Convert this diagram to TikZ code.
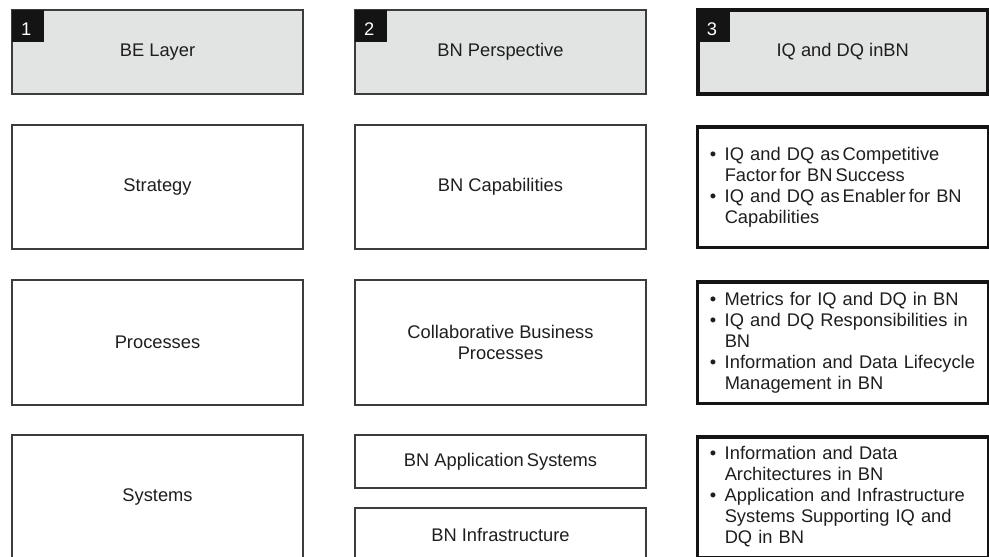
\documentclass[tikz,border=0pt]{standalone}
\usepackage{fontspec}
\setmainfont{Liberation Sans}
\usepackage{tikz}
\usetikzlibrary{positioning}
\definecolor{headgray}{HTML}{E2E3E3}
\definecolor{linegray}{HTML}{3C3C3C}
\definecolor{inkblack}{HTML}{141414}
\definecolor{txtgray}{HTML}{1E1E1E}
\newcommand{\boxfont}{\fontsize{18.3}{21}\selectfont\hyphenpenalty 10000\relax}
\newcommand{\bul}{\makebox[15pt][l]{\textbullet}}
\newcommand{\ind}{\hspace*{15pt}}

\begin{document}
\begin{tikzpicture}[x=1pt,y=-1pt,
    box/.style={draw=linegray,line width=1.5pt,inner sep=0pt,outer sep=0pt,minimum width=291pt,
      text=txtgray,align=center,font=\boxfont},
    head/.style={box,fill=headgray,minimum height=84pt},
    iqbox/.style={box,draw=inkblack,line width=3.5pt,text width=266pt,inner xsep=12pt,align=left},
    badge/.style={fill=inkblack,text=white,minimum size=32pt,inner sep=0pt,anchor=north west,
      text height=19pt,text depth=0pt,font=\boxfont}]
    \useasboundingbox (0,0) rectangle (989,557);
    \clip (0,0) rectangle (989,557);
    % column heads
    \node[head] (be) at (157.5,52) {BE Layer};
    \node[head] (bnp) at (500.5,52) {BN Perspective};
    \node[head,draw=inkblack,line width=3.5pt,minimum width=290pt] (iqdq) at (842.75,52) {IQ and DQ inBN};
    \node[badge] (n1) at (be.north west) {\hspace*{-4pt}1};
    \node[badge] (n2) at (bnp.north west) {\hspace*{-4pt}2};
    \node[badge] (n3) at (iqdq.north west) {\hspace*{-4pt}3};
    % strategy
    \node[box,minimum height=124pt] (strat) at (157.5,187) {Strategy};
    \node[box,minimum height=124pt] (cap) at (500.5,187) {BN Capabilities};
    \node[iqbox,minimum height=120.5pt] (iqstrat) at (842.75,187)
      {\bul IQ and DQ as\,Competitive\\\ind Factor\,for BN\,Success\\
       \bul IQ and DQ as\,Enabler\,for BN\\\ind Capabilities};
    % processes
    \node[box,minimum height=125pt] (proc) at (157.5,342.5) {Processes};
    \node[box,minimum height=125pt] (cbp) at (500.5,342.5) {Collaborative Business\\Processes};
    \node[iqbox,minimum height=121.5pt] (iqproc) at (842.75,342.5)
      {\bul Metrics for IQ and DQ in BN\\\bul IQ and DQ Responsibilities in\\\ind BN\\
       \bul Information and Data Lifecycle\\\ind Management in BN};
    % systems
    \node[box,minimum height=124pt] (sys) at (157.5,497) {Systems};
    \node[box,minimum height=53pt] (app) at (500.5,461.5) {BN Application\,Systems};
    \node[box,minimum height=53pt] (infra) at (500.5,534.5) {BN Infrastructure};
    \node[iqbox,minimum height=120.5pt] (iqsys) at (842.75,497)
      {\bul Information and Data\\\ind Architectures in BN\\
       \bul Application and Infrastructure\\\ind Systems Supporting IQ and\\\ind DQ in BN};
\end{tikzpicture}
\end{document}
